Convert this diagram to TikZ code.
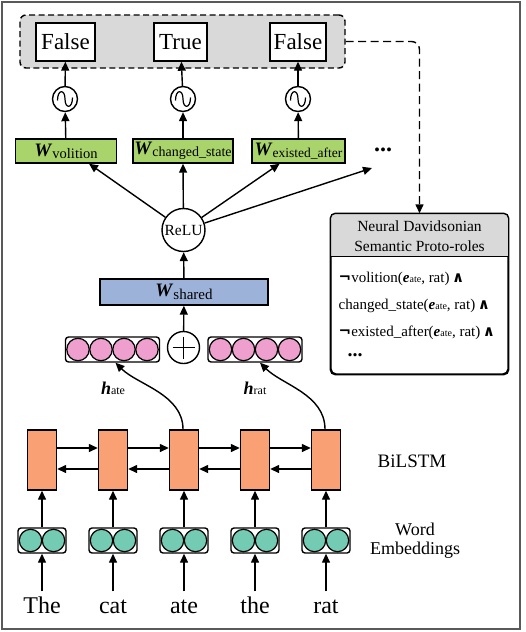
\documentclass[tikz,border=0pt]{standalone}
\usepackage{fontspec}
\setmainfont{Liberation Serif}
\newfontfamily\dejavu{DejaVu Sans}
\usetikzlibrary{arrows.meta,calc}
\definecolor{cgreen}{HTML}{A9D46C}
\definecolor{cpink}{HTML}{EE9FCE}
\definecolor{cteal}{HTML}{74CBB3}
\definecolor{corange}{HTML}{F9A174}
\definecolor{cblue}{HTML}{9DB2D8}
\definecolor{cgray}{HTML}{D9D9D9}
\newcommand{\fs}[1]{\fontsize{#1}{#1}\selectfont}
\newcommand{\bi}[1]{\textbf{\textit{#1}}}
\newcommand{\andsym}{{\dejavu\bfseries ∧}}
\newcommand{\negsym}{{\dejavu\bfseries ¬}}
\begin{document}
\begin{tikzpicture}[x=1pt,y=-1pt,line width=1.4pt,
  arr/.style={-{Triangle[length=9pt,width=8pt]}},
  dashbox/.style={draw,dashed,dash pattern=on 6pt off 3.5pt,rounded corners=6pt,fill=cgray,inner sep=0},
  outbox/.style={draw,fill=white,minimum height=38,inner sep=0,font=\rmfamily\fs{23}},
  sig/.style={circle,draw,fill=white,minimum size=25,inner sep=0},
  gbox/.style={draw,fill=cgreen,minimum height=24,inner sep=0},
  bbox/.style={draw,fill=cblue,minimum height=26,inner sep=0},
  vec/.style={draw,fill=white,rounded corners=3pt,minimum height=25,inner sep=0},
  cell/.style={draw,fill=corange,minimum width=29,minimum height=60,inner sep=0},
  word/.style={anchor=base,inner sep=0,font=\rmfamily\fs{24},text height=17pt,text depth=5pt},
  rline/.style={anchor=west,inner sep=0,font=\rmfamily\fs{15}}]
\useasboundingbox (0,0) rectangle (526,632);
\draw[line width=1.2pt,black!65] (2,2) rectangle (520,629);

% top output group
\node[dashbox,minimum width=325,minimum height=53] (top) at (182.5,41.5) {};
\node[outbox,minimum width=59] (o1) at (65.5,42) {False};
\node[outbox,minimum width=53] (o2) at (180.5,42) {True};
\node[outbox,minimum width=56] (o3) at (298,42) {False};

% sigmoids
\node[sig] (s1) at (65,99) {};
\node[sig] (s2) at (183,99) {};
\node[sig] (s3) at (298,99) {};
\foreach \n in {s1,s2,s3}{
  \draw[line width=1.2pt] ($(\n)+(-7.5,1.5)$) .. controls ($(\n)+(-7.5,-10)$) and ($(\n)+(0,-10)$) .. ($(\n)+(0,0)$)
     .. controls ($(\n)+(0,10)$) and ($(\n)+(7.5,10)$) .. ($(\n)+(7.5,-1.5)$);
}

% green heads
\node[gbox,minimum width=101] (g1) at (66,151) {{\fs{19}\bi{W}}\raisebox{-2pt}{\fs{14.5}volition}};
\node[gbox,minimum width=100] (g2) at (183,151) {{\fs{19}\bi{W}}\raisebox{-2pt}{\fs{14}changed\_state}};
\node[gbox,minimum width=93] (g3) at (298.5,151) {{\fs{19}\bi{W}}\raisebox{-2pt}{\fs{13.5}existed\_after}};
\node[inner sep=0,font=\fs{24}\bfseries] (dots) at (383,150) {...};

\draw[arr] (s1) -- (o1);
\draw[arr] (s2) -- (o2);
\draw[arr] (s3) -- (o3);
\draw[arr] (g1) -- (s1);
\draw[arr] (g2) -- (s2);
\draw[arr] (g3) -- (s3);

% ReLU
\node[circle,draw,fill=white,minimum size=43,inner sep=0,font=\rmfamily\fs{15.5}] (relu) at (183.5,230) {ReLU};
\draw[arr] (relu) -- ($(g1.south)!0.45!(g1.south east)$);
\draw[arr] (relu) -- (g2.south);
\draw[arr] (relu) -- ($(g3.south)!0.4!(g3.south west)$);
\draw[arr] (relu) -- ([shift={(-11,18)}]dots.center);

% shared
\node[bbox,minimum width=168] (sh) at (184,292) {{\fs{19}\bi{W}}\raisebox{-3pt}{\fs{15}shared}};
\draw[arr] (sh) -- (relu);

% plus
\node[circle,draw,fill=white,minimum size=32,inner sep=0] (plus) at (183.5,347.5) {};
\draw ($(plus)+(-11,0)$) -- ($(plus)+(11,0)$);
\draw ($(plus)+(0,-11)$) -- ($(plus)+(0,11)$);
\draw[arr] (plus) -- (sh);

% pink vectors
\node[vec,minimum width=94] (pl) at (112.5,349.5) {};
\node[vec,minimum width=94] (pr) at (255,349.5) {};
\foreach \n in {pl,pr}{
  \foreach \i in {-34.5,-11.5,11.5,34.5}{
    \draw[line width=1.2pt,fill=cpink] ($(\n)+(\i,0)$) circle[radius=11.2pt];
  }
}
\node[inner sep=0] (hl) at (113,388) {{\fs{18}\bi{h}}{\fs{12}ate}};
\node[inner sep=0] (hr) at (255,388) {{\fs{18}\bi{h}}{\fs{12}rat}};

% BiLSTM
\foreach \i/\x in {1/42,2/113,3/184,4/255,5/326}{
  \node[cell] (c\i) at (\x,460) {};
  \node[vec,minimum width=48] (e\i) at (\x,540.5) {};
  \draw[line width=1.2pt,fill=cteal] ($(e\i)+(-11.5,0)$) circle[radius=11.2pt];
  \draw[line width=1.2pt,fill=cteal] ($(e\i)+(11.5,0)$) circle[radius=11.2pt];
  \draw[arr] (e\i) -- (c\i);
}
\foreach \a/\b in {1/2,2/3,3/4,4/5}{
  \draw[arr] ([yshift=12pt]c\a.east) -- ([yshift=12pt]c\b.west);
  \draw[arr] ([yshift=-9pt]c\b.west) -- ([yshift=-9pt]c\a.east);
}
\draw[arr] ([xshift=-1pt]c3.north) .. controls +(0,-35) and +(22,22) .. ([xshift=3pt]pl.south);
\draw[arr] ([xshift=-1pt]c5.north) .. controls +(0,-35) and +(22,22) .. ([xshift=5pt]pr.south);

% words
\node[word] (w1) at (42,613) {The};
\node[word] (w2) at (113,613) {cat};
\node[word] (w3) at (184,613) {ate};
\node[word] (w4) at (255,613) {the};
\node[word] (w5) at (326,613) {rat};
\foreach \i in {1,...,5}{\draw[arr,shorten <=4pt] (w\i.north) -- (e\i.south);}

\node[font=\rmfamily\fs{19}] (bil) at (412,461) {BiLSTM};
\node[align=center,font=\rmfamily\fontsize{18}{19}\selectfont] (we) at (415,541) {Word\\Embeddings};

% right box
\node[draw,fill=white,rounded corners=5pt,minimum width=177,minimum height=160,inner sep=0] (rb) at (419.5,294) {};
\begin{scope}
  \clip[rounded corners=5pt] (rb.north west) rectangle (rb.south east);
  \fill[cgray] (rb.north west) rectangle ($(rb.north east)+(0,43)$);
\end{scope}
\draw ($(rb.north west)+(0,43)$) -- ($(rb.north east)+(0,43)$);
\draw[rounded corners=5pt] (rb.north west) rectangle (rb.south east);
\node[align=center,font=\rmfamily\fontsize{15.5}{20}\selectfont] (hd) at (419.5,236) {Neural Davidsonian\\Semantic Proto-roles};
\node[rline] (l1) at (338,279) {\negsym volition(\bi{e}{\fs{10}ate}, rat)\,\andsym};
\node[rline] (l2) at (338,306) {changed\_state(\bi{e}{\fs{10}ate}, rat)\,\andsym};
\node[rline] (l3) at (338,333) {\negsym existed\_after(\bi{e}{\fs{10}ate}, rat)\,\andsym};
\node[inner sep=0,font=\fs{20}\bfseries] (l4) at (355,355) {...};

\draw[arr,dash pattern=on 8pt off 4.5pt,rounded corners=8pt] (top.east) -| (rb.north);
\end{tikzpicture}
\end{document}
